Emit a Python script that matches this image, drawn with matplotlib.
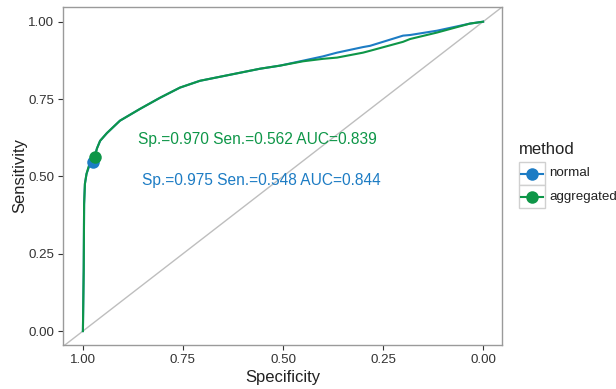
import matplotlib
matplotlib.use("Agg")
import matplotlib.pyplot as plt
from matplotlib.lines import Line2D
from matplotlib.patches import Rectangle

plt.rcParams['font.family'] = ['Liberation Sans', 'DejaVu Sans']

# ---- data ----
methods = ["normal", "aggregated"]
colors = {"normal": "#1D7CC4", "aggregated": "#0E9648"}

spec_normal = [1.0, 0.998, 0.997, 0.995, 0.991, 0.985, 0.975, 0.965, 0.957, 0.94, 0.9075,
               0.8575, 0.8075, 0.7575, 0.7075, 0.6575, 0.6075, 0.5575, 0.5075, 0.45,
               0.40, 0.365, 0.30, 0.2825, 0.2, 0.1825, 0.115, 0.0325, 0.0]
sens_normal = [0.0, 0.20, 0.41, 0.476, 0.508, 0.53, 0.548, 0.59, 0.615, 0.64, 0.68,
               0.718, 0.754, 0.787, 0.809, 0.822, 0.835, 0.848, 0.858, 0.874,
               0.888, 0.90, 0.918, 0.922, 0.955, 0.957, 0.971, 0.994, 1.0]

spec_aggr = [1.0, 0.998, 0.997, 0.995, 0.991, 0.985, 0.970, 0.965, 0.957, 0.94, 0.9075,
             0.8575, 0.8075, 0.7575, 0.7075, 0.6575, 0.6075, 0.5575, 0.5075, 0.45,
             0.40, 0.365, 0.30, 0.2825, 0.2, 0.1825, 0.115, 0.0325, 0.0]
sens_aggr = [0.0, 0.20, 0.41, 0.476, 0.508, 0.535, 0.562, 0.59, 0.615, 0.64, 0.68,
             0.718, 0.754, 0.787, 0.809, 0.822, 0.835, 0.848, 0.858, 0.872,
             0.880, 0.884, 0.900, 0.906, 0.935, 0.944, 0.965, 0.994, 1.0]

best_spec = {"normal": 0.975, "aggregated": 0.970}
best_sens = {"normal": 0.548, "aggregated": 0.562}
auc = {"normal": 0.844, "aggregated": 0.839}
label_pos = {"normal": (0.553, 0.488), "aggregated": (0.565, 0.62)}

xticks = [1.00, 0.75, 0.50, 0.25, 0.00]
yticks = [0.00, 0.25, 0.50, 0.75, 1.00]

# ---- plot ----
fig = plt.figure(figsize=(6.16, 3.89), dpi=100)
ax = fig.add_axes([63.3 / 616, 1 - 345 / 389, (502.3 - 63.3) / 616, (345 - 6.7) / 389])

ax.axline((1, 0), (0, 1), color="#BEBEBE", lw=1.0, zorder=1)

curves = {"normal": (spec_normal, sens_normal), "aggregated": (spec_aggr, sens_aggr)}
for m in methods:
    s, t = curves[m]
    ax.plot(s, t, color=colors[m], lw=1.5, zorder=2, solid_joinstyle="round")
for m in methods:
    ax.plot([best_spec[m]], [best_sens[m]], "o", color=colors[m], ms=9, zorder=3,
            markeredgewidth=0)
    lx, ly = label_pos[m]
    ax.text(lx, ly, "Sp.=%.3f Sen.=%.3f AUC=%.3f" % (best_spec[m], best_sens[m], auc[m]),
            color=colors[m], fontsize=11.2, ha="center", va="center", zorder=4)

ax.set_xlim(1.049, -0.048)
ax.set_ylim(-0.045, 1.0485)
ax.set_xticks(xticks)
ax.set_xticklabels(["%.2f" % v for v in xticks])
ax.set_yticks(yticks)
ax.set_yticklabels(["%.2f" % v for v in yticks])
ax.tick_params(direction="out", length=3.5, width=0.8, color="#333333",
               labelsize=9.6, labelcolor="#333333", pad=3)
for sp in ax.spines.values():
    sp.set_color("#9A9A9A")
    sp.set_linewidth(1.0)
ax.set_xlabel("Specificity", fontsize=12, labelpad=3, color="#222222")
ax.set_ylabel("Sensitivity", fontsize=12, labelpad=1, color="#222222")

# ---- legend (ggplot style) ----
W, H = 616, 389
fig.text(519 / W, 1 - 150 / H, "method", fontsize=12, ha="left", va="center", color="#222222")
for i, m in enumerate(methods):
    y0 = 162 + i * 23
    fig.add_artist(Rectangle((519 / W, 1 - (y0 + 23) / H), 26 / W, 23 / H,
                             transform=fig.transFigure, facecolor="white",
                             edgecolor="#D0D0D0", lw=1.0))
    yc = 1 - (y0 + 11.5) / H
    fig.add_artist(Line2D([521 / W, 543 / W], [yc, yc], transform=fig.transFigure,
                          color=colors[m], lw=1.5))
    fig.add_artist(Line2D([532 / W], [yc], transform=fig.transFigure, marker="o",
                          color=colors[m], ms=9, markeredgewidth=0))
    fig.text(549 / W, yc, m, fontsize=9.6, ha="left", va="center", color="#222222")

fig.savefig("out.png", dpi=100)
